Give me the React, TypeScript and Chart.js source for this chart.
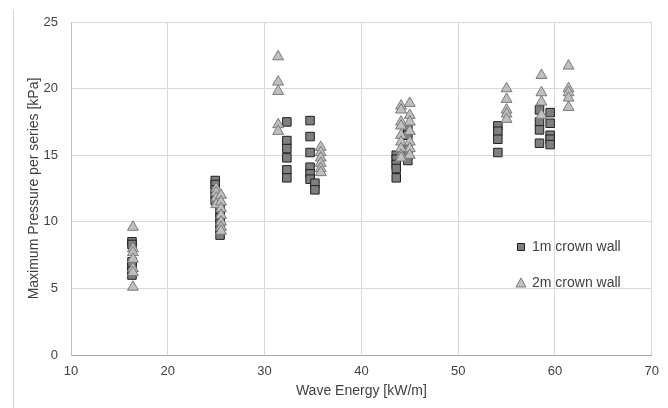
import React, { useEffect, useRef } from 'react';
import { Chart, registerables } from 'chart.js';

Chart.register(...registerables);

// Wave energy [kW/m] and maximum pressure [kPa], 1m crown wall (squares)
const energy1m = [
  16.3, 16.3, 16.3, 16.3, 16.3, 16.3,
  24.9, 24.9, 24.9, 24.9, 24.9,
  25.4, 25.4, 25.4, 25.4, 25.4, 25.4,
  32.3, 32.3, 32.3, 32.3, 32.3, 32.3,
  34.7, 34.7, 34.7, 34.7, 34.7, 34.7,
  35.2, 35.2,
  43.6, 43.6, 43.6, 43.6, 43.6,
  44.8, 44.8, 44.8, 44.8, 44.8,
  54.1, 54.1, 54.1, 54.1,
  58.4, 58.4, 58.4, 58.4,
  59.5, 59.5, 59.5, 59.5, 59.5,
];
const pressure1m = [
  8.5, 8.3, 7.0, 6.7, 6.3, 6.0,
  13.1, 12.8, 12.4, 12.0, 11.6,
  11.0, 10.6, 10.3, 9.9, 9.5, 9.0,
  17.5, 16.1, 15.5, 14.8, 13.9, 13.3,
  17.6, 16.4, 15.2, 14.1, 13.6, 13.2,
  12.9, 12.4,
  15.0, 14.7, 14.3, 14.0, 13.3,
  17.0, 16.5, 15.5, 15.0, 14.6,
  17.2, 16.8, 16.2, 15.2,
  18.4, 17.5, 16.9, 15.9,
  18.2, 17.4, 16.5, 16.2, 15.8,
];

// 2m crown wall (triangles)
const energy2m = [
  16.4, 16.4, 16.4, 16.4, 16.4, 16.4, 16.4,
  25.0, 25.0, 25.0, 25.0,
  25.5, 25.5, 25.5, 25.5, 25.5, 25.5, 25.5,
  31.4, 31.4, 31.4, 31.4, 31.4,
  35.8, 35.8, 35.8, 35.8, 35.8, 35.8,
  44.1, 44.1, 44.1, 44.1, 44.1, 44.1, 44.1, 44.1, 44.1,
  45.0, 45.0, 45.0, 45.0, 45.0, 45.0, 45.0,
  55.0, 55.0, 55.0, 55.0, 55.0,
  58.6, 58.6, 58.6, 58.6,
  61.4, 61.4, 61.4, 61.4, 61.4,
];
const pressure2m = [
  9.6, 8.0, 7.7, 7.2, 6.5, 6.2, 5.1,
  12.5, 12.2, 11.8, 11.3,
  12.0, 11.5, 11.0, 10.5, 10.0, 9.6, 9.3,
  22.4, 20.5, 19.8, 17.3, 16.8,
  15.6, 15.2, 14.8, 14.4, 14.0, 13.7,
  18.7, 18.4, 17.5, 17.2, 16.5, 16.0, 15.5, 15.0, 14.8,
  18.9, 18.0, 17.5, 16.8, 16.0, 15.5, 15.0,
  20.0, 19.2, 18.4, 18.1, 17.7,
  21.0, 19.7, 19.0, 18.0,
  21.7, 20.0, 19.7, 19.3, 18.6,
];

const seriesLabels = ['1m crown wall', '2m crown wall'];
const xTitle = 'Wave Energy [kW/m]';
const yTitle = 'Maximum Pressure per series [kPa]';
const xRange = [10, 70];
const yRange = [0, 25];

const FONT = "'Liberation Sans', Arial, sans-serif";
const TEXT = '#404040';

const toPoints = (xs: number[], ys: number[]) => xs.map((x, i) => ({ x, y: ys[i] }));

const insideLegend = {
  id: 'insideLegend',
  afterDraw(chart: any) {
    const ctx = chart.ctx as CanvasRenderingContext2D;
    const items = [
      { y: 247, ds: chart.data.datasets[0] },
      { y: 283, ds: chart.data.datasets[1] },
    ];
    const mx = 521;
    ctx.save();
    items.forEach((it, idx) => {
      ctx.fillStyle = it.ds.backgroundColor;
      ctx.strokeStyle = it.ds.borderColor;
      ctx.lineWidth = 1;
      ctx.beginPath();
      if (idx === 0) {
        ctx.rect(mx - 3.5, it.y - 3.5, 7, 7);
      } else {
        ctx.moveTo(mx, it.y - 5);
        ctx.lineTo(mx + 5, it.y + 4);
        ctx.lineTo(mx - 5, it.y + 4);
        ctx.closePath();
      }
      ctx.fill();
      ctx.stroke();
      ctx.fillStyle = TEXT;
      ctx.font = `14px ${FONT}`;
      ctx.textBaseline = 'middle';
      ctx.textAlign = 'left';
      ctx.fillText(it.ds.label, 532, it.y);
    });
    ctx.restore();
  },
};

export default function App() {
  const ref = useRef<HTMLCanvasElement | null>(null);

  useEffect(() => {
    if (!ref.current) return;
    const chart = new Chart(ref.current, {
      type: 'scatter',
      data: {
        datasets: [
          {
            label: seriesLabels[0],
            data: toPoints(energy1m, pressure1m),
            pointStyle: 'rect',
            pointRadius: 6,
            backgroundColor: '#7f7f7f',
            borderColor: '#1f1f1f',
            borderWidth: 1,
            order: 1,
          },
          {
            label: seriesLabels[1],
            data: toPoints(energy2m, pressure2m),
            pointStyle: 'triangle',
            pointRadius: 6.3,
            backgroundColor: '#bfbfbf',
            borderColor: '#7a7a7a',
            borderWidth: 1,
            order: 0,
          },
        ],
      },
      options: {
        responsive: false,
        animation: false,
        layout: { padding: { top: 22, right: 13, left: 0, bottom: 0 } },
        plugins: {
          legend: { display: false },
          tooltip: { enabled: false },
        },
        scales: {
          x: {
            type: 'linear',
            min: xRange[0],
            max: xRange[1],
            ticks: { stepSize: 10, color: TEXT, font: { family: FONT, size: 13 }, padding: 9 },
            grid: { color: '#d9d9d9', drawTicks: false, lineWidth: 1 },
            border: { color: '#a6a6a6', width: 1 },
            title: {
              display: true,
              text: xTitle,
              color: TEXT,
              font: { family: FONT, size: 14 },
              padding: { top: 0, bottom: 8 },
            },
            afterFit: (s: any) => { s.height = 53; },
          },
          y: {
            type: 'linear',
            min: yRange[0],
            max: yRange[1],
            ticks: { stepSize: 5, color: TEXT, font: { family: FONT, size: 13 }, padding: 13 },
            grid: { color: '#d9d9d9', drawTicks: false, lineWidth: 1 },
            border: { color: '#bfbfbf', width: 1 },
            title: {
              display: true,
              text: yTitle,
              color: TEXT,
              font: { family: FONT, size: 14 },
              padding: { top: 26, bottom: 0 },
            },
            afterFit: (s: any) => { s.width = 71; },
          },
        },
      },
      plugins: [insideLegend],
    });
    return () => chart.destroy();
  }, []);

  return (
    <div style={{ position: 'absolute', left: 0, top: 0, width: 668, height: 408, background: '#fff' }}>
      <div style={{ position: 'absolute', left: 13, top: 10, width: 1, height: 398, background: '#d9d9d9' }} />
      <canvas ref={ref} width={668} height={408} style={{ display: 'block' }} />
    </div>
  );
}
